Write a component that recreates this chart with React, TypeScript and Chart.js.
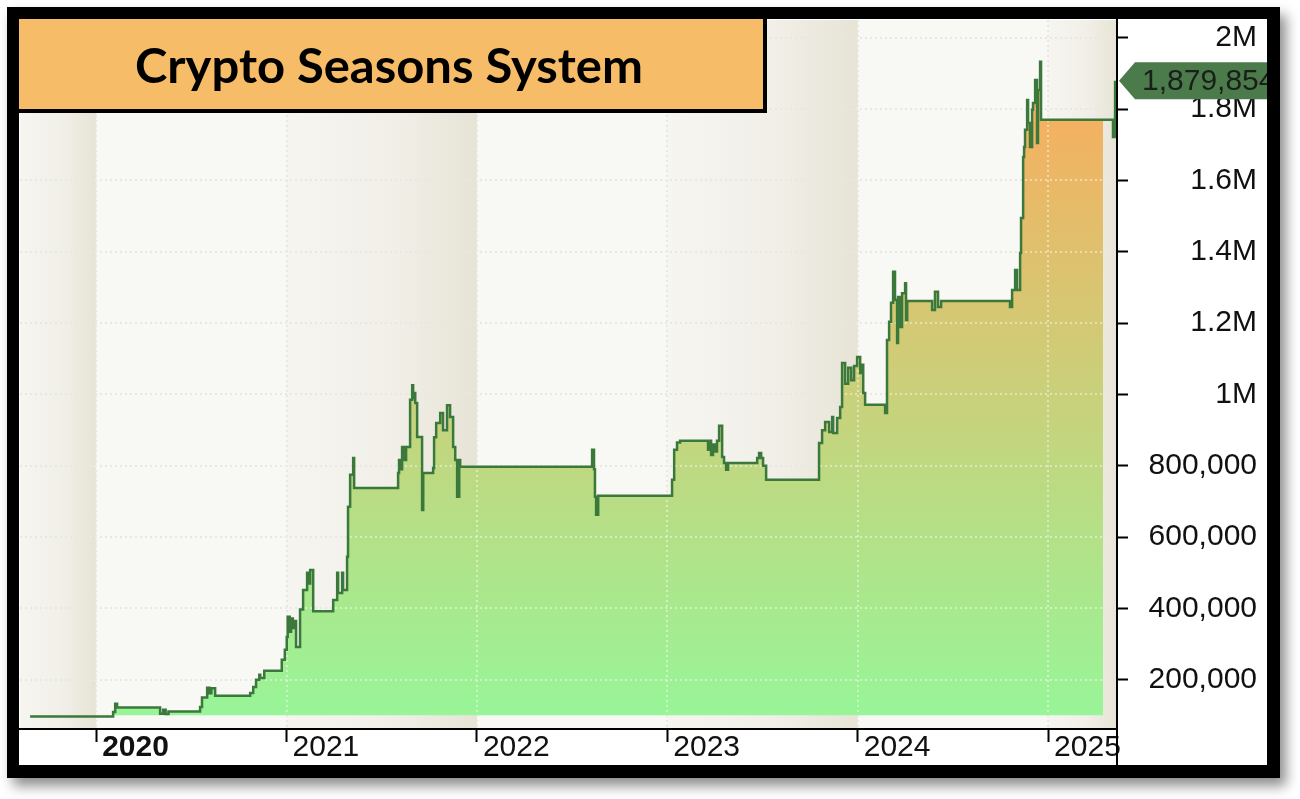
import React, { useEffect, useRef } from "react";
import { Chart, registerables } from "chart.js";

Chart.register(...registerables);

const TITLE = "Crypto Seasons System";

const YEAR_TICKS = [2020, 2021, 2022, 2023, 2024, 2025];
const YEAR_LABELS = ["2020", "2021", "2022", "2023", "2024", "2025"];
const BOLD_YEAR = 2020;

const Y_TICKS = [200000, 400000, 600000, 800000, 1000000, 1200000, 1400000, 1600000, 1800000, 2000000];
const Y_TICK_LABELS = ["200,000", "400,000", "600,000", "800,000", "1M", "1.2M", "1.4M", "1.6M", "1.8M", "2M"];

const X_MIN = 2019.6;
const X_MAX = 2025.362;
const Y_MIN = 62000;
const Y_MAX = 2050000;

// alternating shaded seasons (start year, end year)
const SHADED_BANDS = [
  [2019.6, 2020],
  [2021, 2022],
  [2023, 2024],
  [2025, 2025.362],
];

const START_EQUITY = 100000;
const FILL_END = 2025.289;

const EQUITY_DATES = [
  2019.653, 2020.089, 2020.1, 2020.11, 2020.336, 2020.352, 2020.365, 2020.38, 2020.546, 2020.556,
  2020.583, 2020.595, 2020.605, 2020.625, 2020.809, 2020.825, 2020.84, 2020.857, 2020.862, 2020.883,
  2020.975, 2020.991, 2021.001, 2021.006, 2021.017, 2021.024, 2021.033, 2021.042, 2021.05, 2021.071,
  2021.087, 2021.108, 2021.118, 2021.124, 2021.14, 2021.245, 2021.266, 2021.271, 2021.292, 2021.297,
  2021.318, 2021.323, 2021.334, 2021.35, 2021.355, 2021.586, 2021.591, 2021.597, 2021.607, 2021.618,
  2021.628, 2021.649, 2021.66, 2021.665, 2021.67, 2021.676, 2021.686, 2021.712, 2021.718, 2021.77,
  2021.775, 2021.786, 2021.807, 2021.822, 2021.843, 2021.859, 2021.875, 2021.886, 2021.896, 2021.907,
  2021.912, 2022.605, 2022.615, 2022.62, 2022.626, 2022.637, 2023.025, 2023.036, 2023.051, 2023.067,
  2023.214, 2023.22, 2023.23, 2023.24, 2023.251, 2023.261, 2023.272, 2023.288, 2023.298, 2023.309,
  2023.319, 2023.472, 2023.482, 2023.493, 2023.503, 2023.519, 2023.797, 2023.813, 2023.829, 2023.85,
  2023.866, 2023.871, 2023.892, 2023.908, 2023.918, 2023.934, 2023.95, 2023.966, 2023.981, 2023.997,
  2024.013, 2024.023, 2024.029, 2024.039, 2024.144, 2024.154, 2024.165, 2024.175, 2024.186, 2024.196,
  2024.207, 2024.212, 2024.223, 2024.233, 2024.249, 2024.254, 2024.26, 2024.391, 2024.406, 2024.422,
  2024.438, 2024.8, 2024.811, 2024.827, 2024.837, 2024.853, 2024.858, 2024.869, 2024.874, 2024.879,
  2024.89, 2024.895, 2024.905, 2024.916, 2024.921, 2024.932, 2024.942, 2024.947, 2024.958, 2024.963,
  2025.289, 2025.341, 2025.352,
];

const EQUITY_VALUES = [
  97000, 110000, 133000, 122000, 105000, 116000, 104000, 111000, 124000, 150000,
  178000, 162000, 176000, 155000, 163000, 180000, 200000, 214000, 205000, 225000,
  256000, 284000, 320000, 377000, 335000, 372000, 345000, 365000, 292000, 397000,
  452000, 500000, 470000, 508000, 392000, 424000, 500000, 443000, 500000, 452000,
  545000, 685000, 775000, 822000, 738000, 780000, 816000, 790000, 853000, 816000,
  853000, 985000, 1026000, 990000, 1004000, 976000, 881000, 676000, 780000, 794000,
  880000, 920000, 948000, 900000, 970000, 937000, 853000, 816000, 713000, 816000,
  797000, 845000, 790000, 713000, 663000, 716000, 761000, 845000, 865000, 870000,
  845000, 870000, 830000, 860000, 840000, 870000, 912000, 825000, 808000, 789000,
  808000, 822000, 836000, 822000, 800000, 761000, 864000, 900000, 923000, 895000,
  937000, 892000, 934000, 965000, 1088000, 1030000, 1075000, 1040000, 1080000, 1105000,
  1060000, 1083000, 1004000, 971000, 948000, 1153000, 1204000, 1257000, 1344000, 1265000,
  1144000, 1273000, 1189000, 1284000, 1312000, 1209000, 1262000, 1237000, 1288000, 1245000,
  1262000, 1245000, 1293000, 1349000, 1293000, 1397000, 1495000, 1666000, 1694000, 1742000,
  1826000, 1761000, 1694000, 1798000, 1817000, 1882000, 1705000, 1854000, 1933000, 1770000,
  1770000, 1722000, 1879854,
];

const LINE_COLOR = "#3B783B";
const FILL_BOTTOM_COLOR = "#98F598";
const FILL_TOP_COLOR = "#F5B060";
const FILL_TOP_VALUE = 1800000;

function drawGrid(chart: any, color: string, width: number) {
  const ctx = chart.ctx;
  const { left, right, top, bottom } = chart.chartArea;
  const xs = chart.scales.x;
  const ys = chart.scales.y;
  ctx.save();
  ctx.beginPath();
  ctx.rect(left, top, right - left, bottom - top);
  ctx.clip();
  ctx.strokeStyle = color;
  ctx.lineWidth = width;
  ctx.setLineDash([2, 3]);
  for (const v of Y_TICKS) {
    const y = Math.round(ys.getPixelForValue(v));
    ctx.beginPath();
    ctx.moveTo(left, y);
    ctx.lineTo(right, y);
    ctx.stroke();
  }
  for (const v of YEAR_TICKS) {
    const x = Math.round(xs.getPixelForValue(v));
    ctx.beginPath();
    ctx.moveTo(x, top);
    ctx.lineTo(x, bottom);
    ctx.stroke();
  }
  ctx.restore();
}

const decorPlugin = {
  id: "decor",
  beforeDraw(chart: any) {
    const ctx = chart.ctx;
    const { left, right, top, bottom } = chart.chartArea;
    const xs = chart.scales.x;
    ctx.save();
    ctx.fillStyle = "#ffffff";
    ctx.fillRect(0, 0, chart.width, chart.height);
    // frame with drop shadow
    ctx.shadowColor = "rgba(0,0,0,0.45)";
    ctx.shadowBlur = 12;
    ctx.shadowOffsetX = 6;
    ctx.shadowOffsetY = 8;
    ctx.fillStyle = "#000";
    ctx.fillRect(7, 7, 1273, 771);
    ctx.shadowColor = "rgba(0,0,0,0)";
    ctx.shadowBlur = 0;
    ctx.shadowOffsetX = 0;
    ctx.shadowOffsetY = 0;
    ctx.fillStyle = "#ffffff";
    ctx.fillRect(19, 19, 1248, 746);
    // plot background bands
    ctx.fillStyle = "#F8F8F4";
    ctx.fillRect(left, top, right - left, bottom - top);
    for (const [a, b] of SHADED_BANDS) {
      const x0 = xs.getPixelForValue(a);
      const x1 = xs.getPixelForValue(b);
      const g = ctx.createLinearGradient(x0, 0, x1, 0);
      g.addColorStop(0, "#F6F5F0");
      g.addColorStop(0.55, "#F1EFE8");
      g.addColorStop(1, "#E7E4D6");
      ctx.fillStyle = g;
      ctx.fillRect(x0, top, x1 - x0, bottom - top);
    }
    ctx.restore();
    drawGrid(chart, "#D6D4CA", 2);
  },
  afterDatasetDraw(chart: any, args: any) {
    if (args.index === 1) drawGrid(chart, "rgba(255,255,255,0.45)", 2);
  },
  afterDraw(chart: any) {
    const ctx = chart.ctx;
    const { right } = chart.chartArea;
    const ys = chart.scales.y;
    ctx.save();
    // right axis line through the label strip
    ctx.strokeStyle = "#000";
    ctx.lineWidth = 2;
    ctx.beginPath();
    ctx.moveTo(right, 19);
    ctx.lineTo(right, 767);
    ctx.stroke();

    // last value marker
    const lastVal = EQUITY_VALUES[EQUITY_VALUES.length - 1];
    const py = ys.getPixelForValue(lastVal);
    const tipX = right + 2;
    ctx.fillStyle = "#4B7B4B";
    ctx.beginPath();
    ctx.moveTo(tipX, py);
    ctx.lineTo(tipX + 16, py - 18.5);
    ctx.lineTo(1275, py - 18.5);
    ctx.lineTo(1275, py + 18.5);
    ctx.lineTo(tipX + 16, py + 18.5);
    ctx.closePath();
    ctx.fill();
    ctx.fillStyle = "#1A1F1A";
    ctx.font = "30px 'Liberation Sans', Arial, sans-serif";
    ctx.textBaseline = "middle";
    ctx.textAlign = "left";
    ctx.fillText(lastVal.toLocaleString("en-US"), tipX + 23, py + 1);

    // title box
    ctx.fillStyle = "#000";
    ctx.fillRect(19, 19, 748, 94);
    ctx.fillStyle = "#F6BC68";
    ctx.fillRect(19, 19, 744, 90);
    ctx.fillStyle = "#000";
    ctx.font = "bold 48px Lato, 'Open Sans', sans-serif";
    ctx.textBaseline = "alphabetic";
    const w = ctx.measureText(TITLE).width;
    const sx = 508 / w;
    ctx.save();
    ctx.translate(135, 83);
    ctx.scale(sx, 1);
    ctx.fillText(TITLE, 0, 0);
    ctx.restore();

    // frame ring on top
    ctx.fillStyle = "#000";
    ctx.beginPath();
    ctx.rect(7, 7, 1273, 771);
    ctx.rect(19, 19, 1248, 746);
    ctx.fill("evenodd");
    ctx.restore();
  },
};

export default function App() {
  const canvasRef = useRef<HTMLCanvasElement | null>(null);

  useEffect(() => {
    const canvas = canvasRef.current;
    if (!canvas) return;
    const points = EQUITY_DATES.map((d, i) => ({ x: d, y: EQUITY_VALUES[i] }));
    const fillPoints = points.filter((p) => p.x <= FILL_END);

    const gradientFill = (c: any) => {
      const chart = c.chart;
      if (!chart.chartArea) return "rgba(0,0,0,0)";
      const ys = chart.scales.y;
      const g = chart.ctx.createLinearGradient(0, ys.getPixelForValue(START_EQUITY), 0, ys.getPixelForValue(FILL_TOP_VALUE));
      g.addColorStop(0, FILL_BOTTOM_COLOR);
      g.addColorStop(1, FILL_TOP_COLOR);
      return g;
    };

    const chart = new Chart(canvas, {
      type: "line",
      data: {
        datasets: [
          {
            label: "Equity",
            data: points,
            borderColor: LINE_COLOR,
            borderWidth: 2.5,
            pointRadius: 0,
            stepped: true,
            fill: false,
          },
          {
            label: "Equity area",
            data: fillPoints,
            borderWidth: 0,
            borderColor: "rgba(0,0,0,0)",
            pointRadius: 0,
            stepped: true,
            backgroundColor: gradientFill,
            fill: { target: { value: START_EQUITY }, below: "rgba(0,0,0,0)" } as any,
          },
        ],
      },
      options: {
        responsive: false,
        animation: false,
        events: [],
        layout: { padding: { left: 20, top: 20, right: 43, bottom: 30 } },
        plugins: {
          legend: { display: false },
          tooltip: { enabled: false },
          title: { display: false },
        },
        scales: {
          x: {
            type: "linear",
            position: "bottom",
            min: X_MIN,
            max: X_MAX,
            afterBuildTicks: (scale: any) => {
              scale.ticks = YEAR_TICKS.map((v) => ({ value: v }));
            },
            afterFit: (scale: any) => {
              scale.height = 40;
              scale.paddingLeft = 0;
              scale.paddingRight = 0;
            },
            grid: {
              drawOnChartArea: false,
              drawTicks: true,
              tickLength: 13,
              tickColor: "#000",
              tickWidth: 2,
            },
            border: { display: true, color: "#000", width: 2 },
            ticks: {
              autoSkip: false,
              maxRotation: 0,
              minRotation: 0,
              align: "start",
              labelOffset: 6,
              padding: -12,
              color: "#111",
              font: (c: any) => ({
                family: "'Liberation Sans', Arial, sans-serif",
                size: 30,
                weight: c.tick && c.tick.value === BOLD_YEAR ? "bold" : "normal",
              }),
              callback: (value: any) => {
                const i = YEAR_TICKS.indexOf(Number(value));
                return i >= 0 ? YEAR_LABELS[i] : "";
              },
            },
          },
          y: {
            type: "linear",
            position: "right",
            min: Y_MIN,
            max: Y_MAX,
            afterBuildTicks: (scale: any) => {
              scale.ticks = Y_TICKS.map((v) => ({ value: v }));
            },
            afterFit: (scale: any) => {
              scale.width = 140;
              scale.paddingTop = 0;
              scale.paddingBottom = 0;
            },
            grid: {
              drawOnChartArea: false,
              drawTicks: true,
              tickLength: 11,
              tickColor: "#000",
              tickWidth: 2,
            },
            border: { display: true, color: "#000", width: 2 },
            ticks: {
              crossAlign: "far",
              padding: 11,
              color: "#111",
              font: { family: "'Liberation Sans', Arial, sans-serif", size: 30 },
              callback: (value: any) => {
                const i = Y_TICKS.indexOf(Number(value));
                return i >= 0 ? Y_TICK_LABELS[i] : "";
              },
            },
          },
        },
      },
      plugins: [decorPlugin],
    });

    return () => {
      chart.destroy();
    };
  }, []);

  return (
    <div style={{ position: "absolute", left: 0, top: 0, width: 1300, height: 799 }}>
      <canvas ref={canvasRef} width={1300} height={799} style={{ display: "block" }} />
    </div>
  );
}
